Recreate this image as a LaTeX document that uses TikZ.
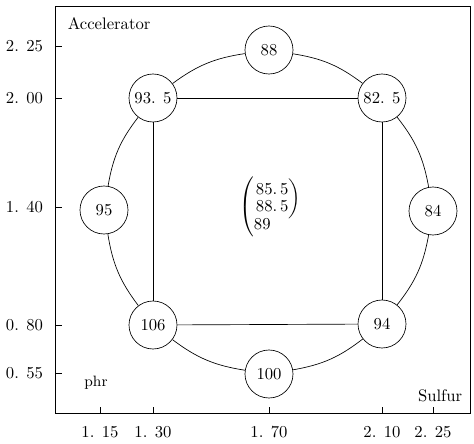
\documentclass[tikz,border=0pt]{standalone}
\usepackage{tikz}
\usetikzlibrary{positioning}

\begin{document}
\begin{tikzpicture}[
  x=0.6pt, y=-0.6pt,
  font=\normalsize,
  pt/.style={
    draw,
    circle,
    minimum size=28.8pt,
    inner sep=0pt,
    fill=white
  },
  ring/.style={bend left=14},
  tick/.style={line width=0.5pt}
]
  \useasboundingbox (0,0) rectangle (474,443);
  \draw (55,6) rectangle (470,413);

  \foreach \yy/\lab in {46/2. 25, 98/2. 00, 207/1. 40, 325/0. 80, 373/0. 55}
    \draw[tick] (55,\yy) -- (62,\yy) node[anchor=east, xshift=-3.6pt] at (55,\yy) {\lab};
  \foreach \xx/\lab in {100/1. 15, 153/1. 30, 269/1. 70, 382/2. 10, 433/2. 25}
    \draw[tick] (\xx,413) -- (\xx,407) node at (\xx,432) {\lab};

  \node[anchor=west] (accel) at (62,24) {Accelerator};
  \node[anchor=east] (sulfur) at (468,396) {Sulfur};
  \node (phr) at (96,383) {\small phr};

  \node[pt] (n88) at (269,50) {88};
  \node[pt] (n935) at (153,98) {93. 5};
  \node[pt] (n825) at (382,98) {82. 5};
  \node[pt] (n95) at (104,210) {95};
  \node[pt] (n84) at (433,211) {84};
  \node[pt] (n106) at (153,325) {106};
  \node[pt] (n94) at (382,324) {94};
  \node[pt] (n100) at (269,374) {100};

  \node (mid) at (271,207)
    {$\left(\begin{array}{@{}l@{}}\left.\begin{array}{@{}l@{}}85.\,5\\[-2pt]88.\,5\end{array}\right)\\[-2pt]89\end{array}\right.$};

  \draw (n88) to[ring] (n825);
  \draw (n825) to[ring] (n84);
  \draw (n84) to[ring] (n94);
  \draw (n94) to[ring] (n100);
  \draw (n100) to[ring] (n106);
  \draw (n106) to[ring] (n95);
  \draw (n95) to[ring] (n935);
  \draw (n935) to[ring] (n88);

  \draw (n935) -- (n825);
  \draw (n825) -- (n94);
  \draw (n94) -- (n106);
  \draw (n106) -- (n935);
\end{tikzpicture}
\end{document}
